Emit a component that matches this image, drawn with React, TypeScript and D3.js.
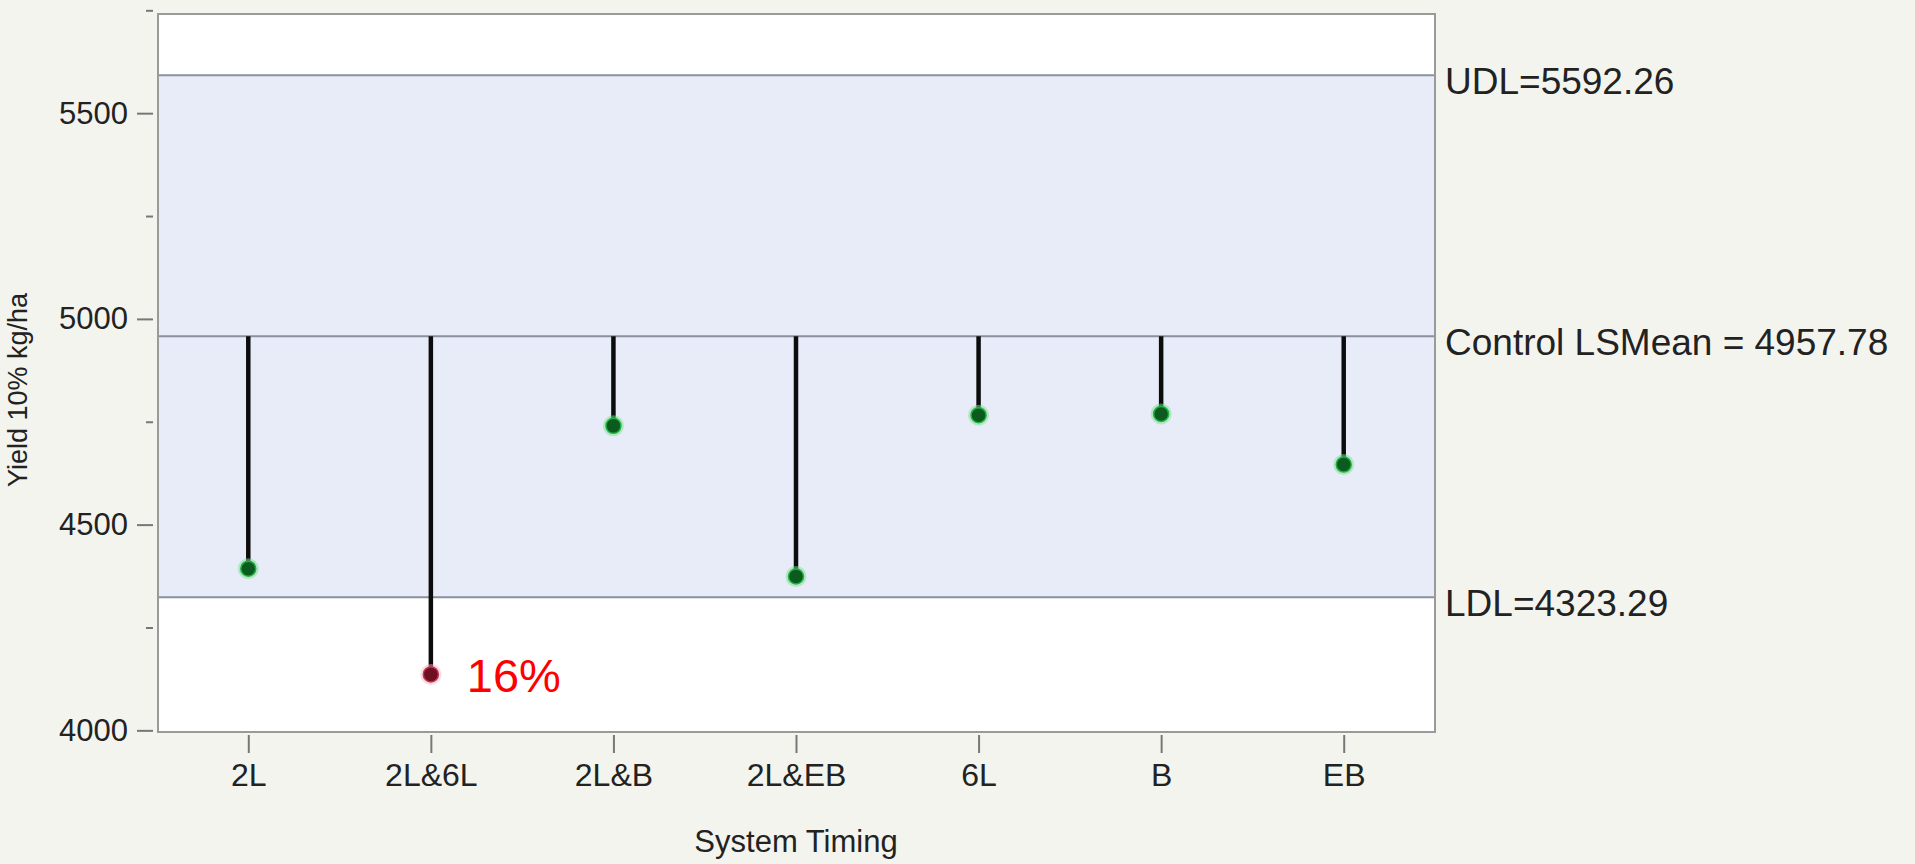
import React, { useRef, useEffect } from "react";
import * as d3 from "d3";

const width = 1915;
const height = 864;
const frame = { left: 157, right: 1435, top: 14, bottom: 732 };

// data
const categories = ["2L", "2L&6L", "2L&B", "2L&EB", "6L", "B", "EB"];
const yields = [4393, 4136, 4740, 4374, 4766, 4769, 4646];
const flagged = [false, true, false, false, false, false, false];
const controlMean = 4957.78;
const udl = 5592.26;
const ldl = 4323.29;
const majorTicks = [4000, 4500, 5000, 5500];
const minorTicks = [4250, 4750, 5250, 5750];
const annotations = ["", "16%", "", "", "", "", ""];

const font = "'Liberation Sans', Arial, Helvetica, sans-serif";

const App = () => {
  const ref = useRef<SVGSVGElement>(null);

  useEffect(() => {
    const svg = d3.select(ref.current);
    svg.selectAll("*").remove();

    const x = d3
      .scalePoint()
      .domain(categories)
      .range([frame.left, frame.right])
      .padding(0.5);
    const y = d3.scaleLinear().domain([3996, 5741]).range([frame.bottom, frame.top]);

    // page background
    svg.append("rect").attr("width", width).attr("height", height).attr("fill", "#f4f4ef");

    // plot area
    svg
      .append("rect")
      .attr("x", frame.left)
      .attr("y", frame.top)
      .attr("width", frame.right - frame.left)
      .attr("height", frame.bottom - frame.top)
      .attr("fill", "#ffffff");

    // decision band
    svg
      .append("rect")
      .attr("x", frame.left)
      .attr("y", y(udl))
      .attr("width", frame.right - frame.left)
      .attr("height", y(ldl) - y(udl))
      .attr("fill", "#e8ecf9");

    // limit lines and labels
    const limits = [
      { v: udl, label: "UDL=5592.26" },
      { v: controlMean, label: "Control LSMean = 4957.78" },
      { v: ldl, label: "LDL=4323.29" },
    ];
    svg
      .selectAll("line.limit")
      .data(limits)
      .enter()
      .append("line")
      .attr("class", "limit")
      .attr("x1", frame.left)
      .attr("x2", frame.right)
      .attr("y1", (d) => y(d.v))
      .attr("y2", (d) => y(d.v))
      .attr("stroke", "#8a90a0")
      .attr("stroke-width", 2);
    svg
      .selectAll("text.limit")
      .data(limits)
      .enter()
      .append("text")
      .attr("class", "limit")
      .attr("x", frame.right + 10)
      .attr("y", (d) => y(d.v) + 19)
      .text((d) => d.label)
      .style("font-family", font)
      .style("font-size", "37px")
      .attr("fill", "#222");

    // frame border
    svg
      .append("rect")
      .attr("x", frame.left + 1)
      .attr("y", frame.top)
      .attr("width", frame.right - frame.left - 1)
      .attr("height", frame.bottom - frame.top)
      .attr("fill", "none")
      .attr("stroke", "#9a9a9a")
      .attr("stroke-width", 2);

    // y axis
    const yAxis = svg
      .append("g")
      .attr("transform", `translate(${frame.left - 4},0)`)
      .call(
        d3
          .axisLeft(y)
          .tickValues(majorTicks)
          .tickFormat(d3.format("d"))
          .tickSize(16)
          .tickPadding(9)
      );
    yAxis.select(".domain").remove();
    yAxis.selectAll("line").attr("stroke", "#777").attr("stroke-width", 2);
    yAxis
      .selectAll("text")
      .style("font-family", font)
      .style("font-size", "31px")
      .attr("fill", "#222");

    const yMinor = svg
      .append("g")
      .attr("transform", `translate(${frame.left - 4},0)`)
      .call(d3.axisLeft(y).tickValues(minorTicks).tickSize(7).tickFormat(() => ""));
    yMinor.select(".domain").remove();
    yMinor.selectAll("line").attr("stroke", "#777").attr("stroke-width", 2);

    // x axis
    const xAxis = svg
      .append("g")
      .attr("transform", `translate(0,${frame.bottom + 3})`)
      .call(d3.axisBottom(x).tickSize(18));
    xAxis.select(".domain").remove();
    xAxis.selectAll("line").attr("stroke", "#777").attr("stroke-width", 2);
    xAxis
      .selectAll("text")
      .attr("y", 51)
      .attr("dy", 0)
      .style("font-family", font)
      .style("font-size", "32px")
      .attr("fill", "#222");

    // stems
    svg
      .selectAll("line.stem")
      .data(yields)
      .enter()
      .append("line")
      .attr("class", "stem")
      .attr("x1", (d, i) => x(categories[i]))
      .attr("x2", (d, i) => x(categories[i]))
      .attr("y1", y(controlMean))
      .attr("y2", (d) => y(d))
      .attr("stroke", "#0c0c0c")
      .attr("stroke-width", 4.5);

    // glow + dots
    svg
      .selectAll("circle.halo")
      .data(yields)
      .enter()
      .append("circle")
      .attr("class", "halo")
      .attr("cx", (d, i) => x(categories[i]))
      .attr("cy", (d) => y(d))
      .attr("r", 10.5)
      .attr("fill", (d, i) => (flagged[i] ? "#f4b8c4" : "#7ee08e"))
      .attr("opacity", 0.5);
    svg
      .selectAll("circle.dot")
      .data(yields)
      .enter()
      .append("circle")
      .attr("class", "dot")
      .attr("cx", (d, i) => x(categories[i]))
      .attr("cy", (d) => y(d))
      .attr("r", 7.5)
      .attr("fill", (d, i) => (flagged[i] ? "#6e0f22" : "#0b5a1e"))
      .attr("stroke", (d, i) => (flagged[i] ? "#c8304c" : "#22b044"))
      .attr("stroke-width", 1.5);

    // annotation
    svg
      .selectAll("text.note")
      .data(yields)
      .enter()
      .append("text")
      .attr("class", "note")
      .attr("x", (d, i) => x(categories[i]) + 36)
      .attr("y", (d) => y(d) + 18)
      .text((d, i) => annotations[i])
      .style("font-family", font)
      .style("font-size", "47px")
      .attr("fill", "#ff0000");

    // axis titles
    svg
      .append("text")
      .attr("x", (frame.left + frame.right) / 2)
      .attr("y", 852)
      .attr("text-anchor", "middle")
      .text("System Timing")
      .style("font-family", font)
      .style("font-size", "31px")
      .attr("fill", "#222");
    svg
      .append("text")
      .attr("transform", "translate(27,390) rotate(-90)")
      .attr("text-anchor", "middle")
      .text("Yield 10% kg/ha")
      .style("font-family", font)
      .style("font-size", "27px")
      .attr("fill", "#222");
  }, []);

  return (
    <div>
      <svg
        ref={ref}
        width={width}
        height={height}
        style={{ position: "absolute", left: 0, top: 0, display: "block" }}
      />
    </div>
  );
};

export default App;
